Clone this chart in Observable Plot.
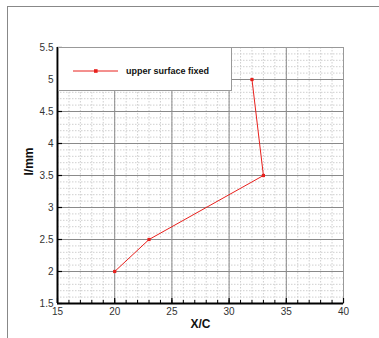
<!DOCTYPE html>
<html>
<head>
<meta charset="utf-8">
<script src="https://cdn.jsdelivr.net/npm/d3@7"></script>
<script src="https://cdn.jsdelivr.net/npm/@observablehq/plot@0.6"></script>
<style>
  html, body { margin: 0; padding: 0; background: #fff; }
  #wrap { position: relative; width: 379px; height: 338px; overflow: hidden; font-family: "Liberation Sans", Arial, sans-serif; }
  #border { position: absolute; left: 7px; top: 6px; width: 400px; height: 400px; border-top: 1px solid #888; border-left: 1px solid #888; }
  #legend { position: absolute; left: 58px; top: 47px; width: 172px; height: 42px; background: #fff; border: 1px solid #999; }
  #legend svg { position: absolute; left: 14px; top: 20px; }
  #legend span { position: absolute; left: 67px; top: 18px; font-size: 9px; font-weight: bold; color: #111; white-space: nowrap; }
</style>
</head>
<body>
<div id="wrap"><div id="border"></div></div>
<script>
const seriesName = "upper surface fixed";
const xValues = [20, 23, 33, 32];
const yValues = [2, 2.5, 3.5, 5];
const xMajorTicks = [15, 20, 25, 30, 35, 40];
const yMajorTicks = [1.5, 2, 2.5, 3, 3.5, 4, 4.5, 5, 5.5];
const xMinorTicks = d3.range(15, 41, 1);
const yMinorTicks = d3.range(15, 56, 1).map(d => d / 10);
const xLabel = "X/C";
const yLabel = "l/mm";

const data = xValues.map((x, i) => ({x, y: yValues[i]}));
const red = "#e8201c";
const fmt = d => String(d);
const blank = () => "";

const chart = Plot.plot({
  width: 379,
  height: 338,
  marginLeft: 57,
  marginRight: 36,
  marginTop: 47,
  marginBottom: 35,
  style: {background: "transparent", fontFamily: "Liberation Sans, Arial, sans-serif"},
  x: {domain: [15, 40], label: null},
  y: {domain: [1.5, 5.5], label: null},
  marks: [
    Plot.gridX(xMinorTicks, {stroke: "#cfcfcf", strokeOpacity: 1, strokeDasharray: "1.5,1.5"}),
    Plot.gridY(yMinorTicks, {stroke: "#cfcfcf", strokeOpacity: 1, strokeDasharray: "1.5,1.5"}),
    Plot.gridX(xMajorTicks, {stroke: "#8a8a8a", strokeOpacity: 1}),
    Plot.gridY(yMajorTicks, {stroke: "#8a8a8a", strokeOpacity: 1}),
    Plot.frame({stroke: "#999"}),
    Plot.axisX(xMajorTicks, {tickSize: -5, tickFormat: blank, label: null, stroke: "#000", strokeWidth: 1.2}),
    Plot.axisX(xMinorTicks, {tickSize: -3, tickFormat: blank, label: null, stroke: "#000"}),
    Plot.axisY(yMajorTicks, {tickSize: -5, tickFormat: blank, label: null, stroke: "#000", strokeWidth: 1.2}),
    Plot.axisX(xMajorTicks, {tickSize: 0, tickPadding: 4, tickFormat: fmt, fontSize: 10, fill: "#333", label: null}),
    Plot.axisY(yMajorTicks, {tickSize: 0, tickPadding: 4, tickFormat: fmt, fontSize: 10, fill: "#333", label: null}),
    Plot.ruleX([15], {stroke: "#000", strokeWidth: 2}),
    Plot.ruleY([1.5], {stroke: "#000", strokeWidth: 2}),
    Plot.line(data, {x: "x", y: "y", stroke: red, strokeWidth: 1}),
    Plot.dot(data, {x: "x", y: "y", symbol: "square", r: 1.8, fill: red}),
    Plot.text([xLabel], {frameAnchor: "bottom", dy: 24, fontSize: 12, fontWeight: "bold", fill: "#111"}),
    Plot.text([yLabel], {frameAnchor: "left", dx: -28, rotate: -90, fontSize: 12, fontWeight: "bold", fill: "#111"})
  ]
});
chart.style.position = "absolute";
chart.style.left = "0px";
chart.style.top = "0px";
const wrap = document.getElementById("wrap");
wrap.appendChild(chart);

const legend = document.createElement("div");
legend.id = "legend";
legend.innerHTML = `<svg width="46" height="6"><line x1="0" y1="3" x2="45" y2="3" stroke="${red}" stroke-width="1"/><rect x="21" y="1.2" width="3.6" height="3.6" fill="${red}"/></svg><span>${seriesName}</span>`;
wrap.appendChild(legend);
</script>
</body>
</html>
